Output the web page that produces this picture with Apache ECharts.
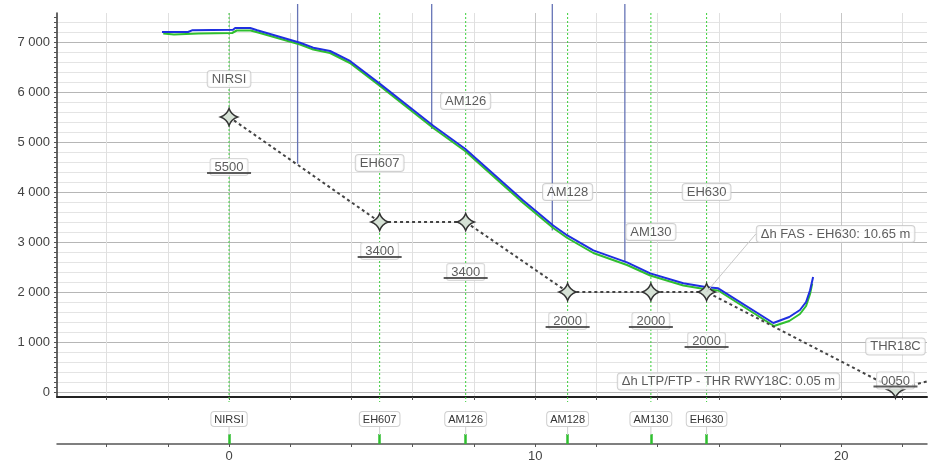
<!DOCTYPE html>
<html><head><meta charset="utf-8">
<script src="https://cdn.jsdelivr.net/npm/echarts@6/dist/echarts.min.js"></script>
<style>html,body{margin:0;padding:0;background:#fff}#c{width:932px;height:464px}</style>
</head><body><div id="c"></div>
<script>
// ---------- data ----------
const wpNames   = ['NIRSI', 'EH607', 'AM126', 'AM128', 'AM130', 'EH630'];
const wpDist    = [0, 4.92, 7.73, 11.06, 13.78, 15.6];
const wpAlt     = [5500, 3400, 3400, 2000, 2000, 2000];
const wpAltText = ['5500', '3400', '3400', '2000', '2000', '2000'];

const thrName    = 'THR18C';
const thrDist    = 21.77;
const thrAlt     = 50;
const thrAltText = '0050';
const extDist    = 22.8;   // dotted continuation beyond threshold
const extAlt     = 210;

const blueDist = [-2.19, -1.34, -1.21, 0.13, 0.2, 0.69, 0.92, 2.32, 2.75, 3.3, 3.95, 4.93, 6.67, 7.71, 9.61, 10.59, 11.05, 11.9, 13.0, 13.76, 14.84, 15.62, 15.98, 17.78, 18.3, 18.65, 18.85, 18.98, 19.08];
const blueAlt  = [7200, 7200, 7234, 7246, 7280, 7280, 7234, 6986, 6887, 6820, 6621, 6163, 5325, 4866, 3829, 3330, 3131, 2832, 2593, 2373, 2174, 2094, 2074, 1380, 1500, 1640, 1800, 2034, 2300];
const greenDist = [-2.15, -1.8, -1.0, 0.1, 0.25, 0.7, 0.95, 2.32, 2.75, 3.3, 3.95, 4.93, 6.67, 7.71, 9.61, 10.59, 11.05, 11.9, 13.0, 13.76, 14.84, 15.62, 15.98, 17.8, 18.3, 18.65, 18.85, 18.98, 19.05];
const greenAlt  = [7170, 7150, 7170, 7180, 7230, 7230, 7190, 6950, 6850, 6780, 6580, 6120, 5280, 4820, 3780, 3280, 3080, 2780, 2540, 2330, 2130, 2050, 2030, 1320, 1420, 1560, 1720, 1960, 2170];

const obsDist   = [2.24, 6.62, 10.56, 12.93];
const obsBottom = [4567, 5259, 3231, 2599];

const xTickVals  = [-4, -2, 0, 2, 4, 6, 8, 10, 12, 14, 16, 18, 20, 22];
const xLabelVals = [0, 10, 20];
const yTickVals  = [];
for (let v = 0; v <= 7500; v += 100) yTickVals.push(v);
const yLabelVals = [0, 1000, 2000, 3000, 4000, 5000, 6000, 7000];

const fasNote = 'Δh FAS - EH630: 10.65 m';
const thrNote = 'Δh LTP/FTP - THR RWY18C: 0.05 m';

// ---------- layout / style (not data) ----------
const nameOffset = [38, 59, 121, 100, 60, 100];   // px above point
const altOffset  = [51, 30, 51, 30, 30, 50];      // px below point
const FONT = 'Liberation Sans, Arial, sans-serif';
const boxStyle = {
  backgroundColor: '#ffffff', borderColor: '#c4c4c4', borderWidth: 1,
  borderRadius: 3, padding: [2, 4, 1, 4], color: '#333', fontSize: 13, fontFamily: FONT
};
const STAR = 'path://M0,-10 Q2.6,-2.6 10,0 Q2.6,2.6 0,10 Q-2.6,2.6 -10,0 Q-2.6,-2.6 0,-10 Z';

function fmtThousands(v) { return String(v).replace(/\B(?=(\d{3})+(?!\d))/g, ' '); }
function pairs(xs, ys) { return xs.map((x, i) => [x, ys[i]]); }

const xMin = -5.62, xMax = 22.8, yMin = -100, yMax = 7580;

const hMajor = '#b6b6b6', hMinor = '#e4e4e4', none = 'rgba(0,0,0,0)';
const vMajor = '#c6c6c6', vMinor = '#e0e0e0';

function altRich(txt) {
  return {
    formatter: '{t|' + txt + '}\n{u| }',
    rich: {
      t: Object.assign({}, boxStyle, { padding: [2, 4, 1, 4], lineHeight: 10, borderRadius: 2, borderColor: '#d0d0d0' }),
      u: { width: 44, height: 2, lineHeight: 2, fontSize: 1, backgroundColor: '#333' }
    }
  };
}

const nameLabelData = wpDist.map((d, i) => ({
  value: [d, wpAlt[i]],
  label: Object.assign({ show: true, position: 'inside', offset: [0, -nameOffset[i]], formatter: wpNames[i] }, boxStyle)
}));
nameLabelData.push({
  value: [thrDist, thrAlt],
  label: Object.assign({ show: true, position: 'inside', offset: [0, -43], formatter: thrName }, boxStyle)
});

const altLabelData = wpDist.map((d, i) => ({
  value: [d, wpAlt[i]],
  label: Object.assign({ show: true, position: 'inside', offset: [0, altOffset[i]] }, altRich(wpAltText[i]))
}));
altLabelData.push({
  value: [thrDist, thrAlt],
  label: Object.assign({ show: true, position: 'inside', offset: [0, -8] }, altRich(thrAltText))
});

const procData = pairs(wpDist, wpAlt).map(p => ({ value: p }));
procData.push({ value: [thrDist, thrAlt] });
procData.push({ value: [extDist, extAlt], symbol: 'none' });

// vertical line items: [x, yFrom, yTo, kind]
const vlineData = wpDist.map(d => [d, yMax, yMin, 0]).concat(obsDist.map((d, i) => [d, yMax, obsBottom[i], 1]));

function renderVLine(params, api) {
  const x = api.value(0), kind = api.value(3);
  const top = api.coord([x, api.value(1)]);
  const bot = api.coord([x, api.value(2)]);
  if (kind === 0) {
    return {
      type: 'group', children: [
        { type: 'line', shape: { x1: top[0], y1: top[1], x2: bot[0], y2: bot[1] + 5 },
          style: { stroke: '#3ccf3c', lineWidth: 1, lineDash: [2, 2] } },
        { type: 'line', shape: { x1: bot[0], y1: bot[1] + 30, x2: bot[0], y2: bot[1] + 38 },
          style: { stroke: '#d0d0d0', lineWidth: 1 } }
      ]
    };
  }
  return {
    type: 'line', shape: { x1: top[0], y1: top[1] - 9, x2: bot[0], y2: bot[1] },
    style: { stroke: '#6674b6', lineWidth: 1.3 }
  };
}

const chart = echarts.init(document.getElementById('c'), null, { renderer: 'canvas' });
chart.setOption({
  animation: false,
  backgroundColor: '#fff',
  textStyle: { fontFamily: FONT },
  grid: { left: 57, right: 5, top: 13, bottom: 67, containLabel: false },
  xAxis: [
    { // main axis (plot bottom)
      type: 'value', min: xMin, max: xMax, position: 'bottom',
      axisLine: { show: true, onZero: false, lineStyle: { color: '#222', width: 2 } },
      axisTick: { show: true, customValues: xTickVals, length: 3, lineStyle: { color: '#555' } },
      axisLabel: { show: false },
      splitLine: { show: true, lineStyle: { color: [vMinor, vMinor, vMajor, vMinor, vMinor], width: 1 } }
    },
    { // lower distance axis
      type: 'value', min: xMin, max: xMax, position: 'bottom', offset: 47,
      axisLine: { show: true, onZero: false, lineStyle: { color: '#555', width: 1.5 } },
      axisTick: { show: true, customValues: xTickVals, length: 3, lineStyle: { color: '#555' } },
      axisLabel: { show: true, customValues: xLabelVals, margin: 6, fontSize: 13, color: '#444', fontFamily: FONT },
      splitLine: { show: false }
    },
    { // waypoint names under the plot
      type: 'value', min: xMin, max: xMax, position: 'bottom', offset: 0,
      axisLine: { show: false }, axisTick: { show: false }, splitLine: { show: false },
      axisLabel: {
        show: true, customValues: wpDist, margin: 15,
        formatter: v => { const i = wpDist.findIndex(d => Math.abs(d - v) < 1e-6); return i >= 0 ? wpNames[i] : ''; },
        fontSize: 11, color: '#333', fontFamily: FONT,
        backgroundColor: '#fff', borderColor: '#cfcfcf', borderWidth: 1, borderRadius: 3, padding: [2, 3, 1, 3]
      }
    },
    { // green waypoint ticks on lower axis
      type: 'value', min: xMin, max: xMax, position: 'bottom', offset: 47,
      axisLine: { show: false }, splitLine: { show: false }, axisLabel: { show: false },
      axisTick: { show: true, customValues: wpDist, inside: true, length: 10, lineStyle: { color: '#2fbf2f', width: 2.5 } }
    }
  ],
  yAxis: {
    type: 'value', min: yMin, max: yMax,
    axisLine: { show: true, onZero: false, lineStyle: { color: '#333', width: 1.5 } },
    axisTick: { show: true, customValues: yTickVals, length: 3, lineStyle: { color: '#555' } },
    axisLabel: { show: true, customValues: yLabelVals, formatter: fmtThousands, margin: 7, fontSize: 13, color: '#444', fontFamily: FONT },
    splitLine: { show: true, lineStyle: { color: [hMajor, none, hMinor, none, hMinor, none, hMinor, none, hMinor, none], width: 1 } }
  },
  series: [
    {
      name: 'verticals', type: 'custom', data: vlineData, renderItem: renderVLine,
      clip: false, silent: true, z: 2
    },
    {
      name: 'green', type: 'line', data: pairs(greenDist, greenAlt), showSymbol: false, symbol: 'none',
      lineStyle: { color: '#2fbf2f', width: 2 }, z: 3, silent: true
    },
    {
      name: 'blue', type: 'line', data: pairs(blueDist, blueAlt), showSymbol: false, symbol: 'none',
      lineStyle: { color: '#1f2fe0', width: 2 }, z: 4, silent: true
    },
    {
      name: 'procedure', type: 'line', data: procData, symbol: STAR, symbolSize: 17,
      lineStyle: { color: '#444', width: 2, type: [3, 3] },
      itemStyle: { color: '#d6e2d6', borderColor: '#333', borderWidth: 1.5 },
      z: 5, silent: true
    },
    {
      name: 'names', type: 'scatter', data: nameLabelData, symbolSize: 0, z: 6, silent: true
    },
    {
      name: 'alts', type: 'scatter', data: altLabelData, symbolSize: 0, z: 7, silent: true
    },
    {
      name: 'notes', type: 'scatter', symbolSize: 0, z: 8, silent: true,
      data: [
        { value: [wpDist[5], wpAlt[5]],
          label: Object.assign({ show: true, position: 'inside', formatter: fasNote }, boxStyle),
          labelLine: { show: true, lineStyle: { color: '#c8c8c8', width: 1 } } },
        { value: [thrDist, thrAlt],
          label: Object.assign({ show: true, position: 'inside', formatter: thrNote }, boxStyle) }
      ],
      labelLayout: p => p.dataIndex === 0 ? { dx: 129, dy: -58 } : { dx: -167, dy: -8 }
    }
  ]
});
</script>
</body></html>
